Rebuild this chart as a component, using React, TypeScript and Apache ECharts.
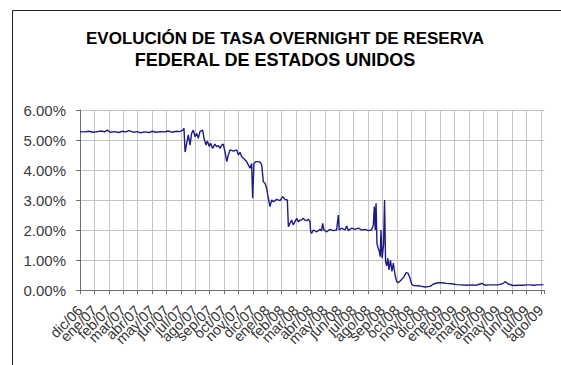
import React, { useEffect, useRef } from "react";
import * as echarts from "echarts";

const TITLE_LINE_1 = "EVOLUCIÓN DE TASA OVERNIGHT DE RESERVA";
const TITLE_LINE_2 = "FEDERAL DE ESTADOS UNIDOS";

const monthLabels = [
  "dic/06", "ene/07", "feb/07", "mar/07", "abr/07", "may/07", "jun/07", "jul/07",
  "ago/07", "sep/07", "oct/07", "nov/07", "dic/07", "ene/08", "feb/08", "mar/08",
  "abr/08", "may/08", "jun/08", "jul/08", "ago/08", "sep/08", "oct/08", "nov/08",
  "dic/08", "ene/09", "feb/09", "mar/09", "abr/09", "may/09", "jun/09", "jul/09", "ago/09",
];

const yTicks = [0, 1, 2, 3, 4, 5, 6];

// [month position on the axis, rate in %]
const stable2007: [number, number][] = [
  [0, 5.28], [0.3, 5.27], [0.6, 5.29], [0.9, 5.26], [1.2, 5.28], [1.5, 5.3], [1.7, 5.27],
  [1.9, 5.33], [2.1, 5.26], [2.4, 5.28], [2.7, 5.25], [2.9, 5.29], [3.2, 5.27], [3.4, 5.31],
  [3.7, 5.26], [4.0, 5.28], [4.2, 5.24], [4.5, 5.27], [4.8, 5.25], [5.0, 5.29], [5.3, 5.26],
  [5.6, 5.28], [5.9, 5.27], [6.1, 5.3], [6.4, 5.26], [6.7, 5.29], [6.9, 5.28], [7.1, 5.31],
  [7.22, 5.39],
];

const crisis2007: [number, number][] = [
  [7.3, 4.6], [7.41, 4.89], [7.52, 5.17], [7.64, 4.83], [7.75, 5.22], [7.87, 5.33],
  [7.99, 5.11], [8.1, 5.22], [8.22, 5.06], [8.33, 5.28], [8.52, 5.33], [8.61, 5.06],
  [8.75, 4.83], [8.84, 4.97], [8.98, 4.78], [9.07, 4.89], [9.21, 4.72], [9.37, 4.86],
  [9.49, 4.78], [9.61, 4.81], [9.72, 4.72], [9.84, 4.83], [9.95, 4.86], [10.07, 4.61],
  [10.19, 4.28], [10.3, 4.5], [10.42, 4.67], [10.65, 4.63], [10.88, 4.67], [11.0, 4.5],
  [11.11, 4.59], [11.23, 4.44], [11.34, 4.39], [11.57, 4.28], [11.69, 4.17], [11.81, 4.06],
  [11.92, 4.22], [11.99, 3.06], [12.08, 4.22], [12.22, 4.28], [12.38, 4.28], [12.5, 4.26],
  [12.62, 4.17], [12.73, 3.61], [12.85, 3.56], [12.96, 3.39], [13.08, 3.06], [13.19, 2.78],
];

const cuts2008: [number, number][] = [
  [13.31, 3.0], [13.43, 2.94], [13.66, 3.02], [13.89, 2.98], [14.07, 3.11], [14.24, 3.02],
  [14.4, 3.0], [14.47, 2.11], [14.58, 2.22], [14.7, 2.33], [14.81, 2.17], [14.93, 2.28],
  [15.05, 2.39], [15.16, 2.28], [15.28, 2.33], [15.39, 2.33], [15.51, 2.39], [15.62, 2.33],
  [15.74, 2.31], [15.86, 2.36], [15.97, 2.28], [16.02, 1.94], [16.09, 1.89], [16.2, 2.0],
  [16.44, 1.94], [16.67, 2.02], [16.78, 1.98], [16.85, 2.22], [16.94, 2.0], [17.13, 1.94],
  [17.36, 2.02], [17.59, 1.98], [17.82, 2.0], [17.94, 2.5], [18.0, 2.0], [18.17, 2.06],
  [18.4, 2.0], [18.52, 2.13], [18.63, 1.98], [18.86, 2.06], [19.1, 2.02], [19.33, 2.06],
  [19.56, 2.0], [19.79, 2.02], [20.02, 1.98], [20.25, 2.0],
];

const lehman2008: [number, number][] = [
  [20.37, 2.17], [20.44, 2.78], [20.5, 2.0], [20.56, 2.89], [20.62, 1.56], [20.7, 1.4],
  [20.78, 1.3], [20.85, 1.11], [20.9, 2.0], [20.98, 1.06], [21.08, 1.5], [21.15, 3.0],
  [21.22, 0.95], [21.3, 0.8], [21.38, 1.06], [21.46, 0.67], [21.56, 1.0], [21.66, 0.62],
  [21.76, 0.9], [21.88, 0.5], [21.99, 0.28], [22.1, 0.24], [22.3, 0.33], [22.5, 0.44],
  [22.65, 0.58], [22.78, 0.56], [22.9, 0.42], [23.03, 0.2],
];

const nearZero2009: [number, number][] = [
  [23.15, 0.15], [23.5, 0.14], [23.73, 0.12], [23.96, 0.1], [24.31, 0.12], [24.54, 0.2],
  [24.88, 0.24], [25.12, 0.24], [25.46, 0.22], [25.81, 0.21], [26.16, 0.18], [26.5, 0.17],
  [26.85, 0.16], [27.2, 0.17], [27.55, 0.16], [27.78, 0.2], [27.9, 0.22], [28.13, 0.16],
  [28.4, 0.17], [28.7, 0.17], [29.05, 0.17], [29.4, 0.22], [29.51, 0.28], [29.75, 0.2],
  [30.09, 0.15], [30.45, 0.16], [30.79, 0.16], [31.0, 0.17], [31.25, 0.17], [31.5, 0.16],
  [31.71, 0.17], [31.95, 0.17], [32.18, 0.18],
];

const rateSeries = [...stable2007, ...crisis2007, ...cuts2008, ...lehman2008, ...nearZero2009];

const X_MAX = 32.25;
const FONT = "'Liberation Sans', Arial, sans-serif";

export default function App() {
  const ref = useRef<HTMLDivElement>(null);

  useEffect(() => {
    if (!ref.current) return;
    const chart = echarts.init(ref.current, undefined, { renderer: "svg" });
    const plotLeft = 80;
    const plotRight = 16.6;
    const plotWidth = 561 - plotLeft - plotRight;
    const lastTickRight = plotRight + plotWidth * (X_MAX - (monthLabels.length - 1)) / X_MAX;
    chart.setOption({
      animation: false,
      backgroundColor: "#ffffff",
      textStyle: { fontFamily: FONT },
      grid: [
        { left: plotLeft, right: plotRight, top: 110, bottom: 75, outerBoundsMode: "none", containLabel: false },
        { left: plotLeft, right: lastTickRight, top: 110, bottom: 75, outerBoundsMode: "none", containLabel: false },
      ],
      graphic: [
        { type: "line", shape: { x1: 12.5, y1: 10.5, x2: 561, y2: 10.5 }, style: { stroke: "#222", lineWidth: 1 } },
        { type: "line", shape: { x1: 12.5, y1: 10.5, x2: 12.5, y2: 365 }, style: { stroke: "#222", lineWidth: 1 } },
        {
          type: "text", x: 285, y: 38.5,
          style: { text: TITLE_LINE_1, font: `bold 17px ${FONT}`, fill: "#000", align: "center", verticalAlign: "middle" },
        },
        {
          type: "text", x: 275, y: 60,
          style: { text: TITLE_LINE_2, font: `bold 18px ${FONT}`, fill: "#000", align: "center", verticalAlign: "middle" },
        },
      ],
      xAxis: [
        {
          type: "value",
          gridIndex: 0,
          min: 0,
          max: X_MAX,
          interval: 1,
          axisLine: { show: true, lineStyle: { color: "#707070", width: 1 } },
          axisTick: { show: true, length: 4, lineStyle: { color: "#707070" } },
          splitLine: { show: true, showMaxLine: false, lineStyle: { color: "#c4c4c4", width: 1 } },
          axisLabel: { show: false },
        },
        {
          type: "category",
          gridIndex: 1,
          data: monthLabels,
          boundaryGap: false,
          axisLine: { show: false },
          axisTick: { show: false },
          splitLine: { show: false },
          axisLabel: {
            interval: 0,
            rotate: 45,
            margin: 18,
            fontSize: 14.5,
            color: "#333",
            fontFamily: FONT,
          },
        },
      ],
      yAxis: [
        {
          type: "value",
          gridIndex: 0,
          min: yTicks[0],
          max: yTicks[yTicks.length - 1],
          interval: 1,
          axisLine: { show: true, lineStyle: { color: "#707070", width: 1 } },
          axisTick: { show: true, length: 4, lineStyle: { color: "#707070" } },
          splitLine: { show: true, lineStyle: { color: "#c4c4c4", width: 1 } },
          axisLabel: {
            margin: 14,
            fontSize: 15,
            color: "#3a3a3a",
            fontFamily: FONT,
            formatter: (v: number) => `${v.toFixed(2)}%`,
          },
        },
        {
          type: "value",
          gridIndex: 1,
          show: false,
          min: 0,
          max: 1,
        },
      ],
      series: [
        {
          type: "line",
          xAxisIndex: 0,
          yAxisIndex: 0,
          data: rateSeries,
          showSymbol: false,
          symbol: "none",
          lineStyle: { color: "#1c1c84", width: 1.4 },
          z: 5,
        },
      ],
    });
    return () => chart.dispose();
  }, []);

  return (
    <div
      ref={ref}
      style={{ position: "fixed", left: 0, top: 0, width: 561, height: 365, background: "#fff" }}
    />
  );
}
